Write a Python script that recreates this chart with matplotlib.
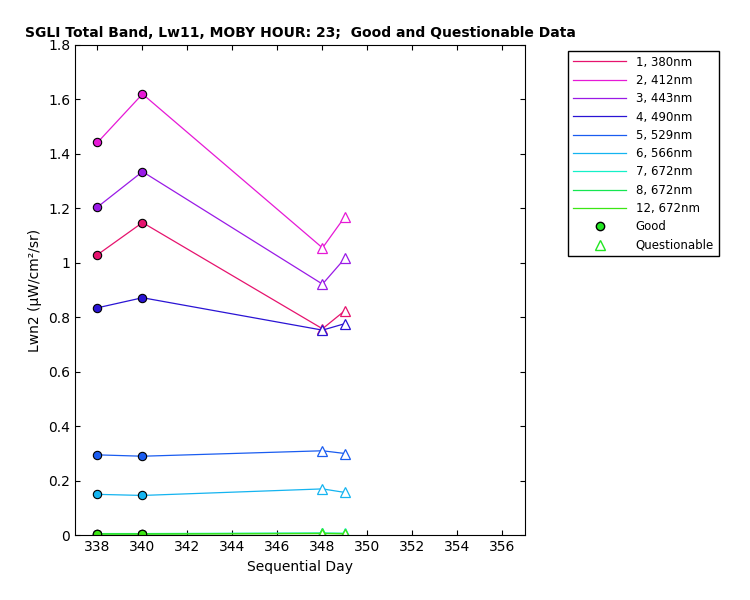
import matplotlib
matplotlib.use("Agg")
import matplotlib.pyplot as plt
from matplotlib.lines import Line2D

days = [338, 340, 348, 349]
good_n = 2
labels = ["1, 380nm", "2, 412nm", "3, 443nm", "4, 490nm", "5, 529nm", "6, 566nm", "7, 672nm", "8, 672nm", "12, 672nm"]
colors = ["#e6136e", "#e619d6", "#9a1ae6", "#2a14d4", "#1a5cf0", "#14b4f0", "#14f0c8", "#14e650", "#3ce614"]
values = [
    [1.03, 1.148, 0.758, 0.825],
    [1.442, 1.62, 1.055, 1.17],
    [1.205, 1.335, 0.922, 1.017],
    [0.835, 0.872, 0.753, 0.777],
    [0.295, 0.29, 0.31, 0.30],
    [0.15, 0.146, 0.17, 0.157],
    [0.006, 0.006, 0.008, 0.007],
    [0.005, 0.005, 0.007, 0.006],
    [0.004, 0.004, 0.006, 0.005],
]

fig = plt.figure(figsize=(7.5, 6), dpi=100)
ax = fig.add_axes([0.1, 0.108, 0.6, 0.817])
handles = []
for lab, c, v in zip(labels, colors, values):
    h, = ax.plot(days, v, color=c, lw=0.9, label=lab)
    handles.append(h)
    ax.plot(days[:good_n], v[:good_n], 'o', mfc=c, mec='black', ms=6, mew=0.8, ls='none')
    ax.plot(days[good_n:], v[good_n:], '^', mfc='white', mec=c, ms=6.5, mew=0.9, ls='none')
handles.append(Line2D([], [], marker='o', ls='none', mfc='#22e622', mec='black', ms=6, label='Good'))
handles.append(Line2D([], [], marker='^', ls='none', mfc='white', mec='#22e622', ms=6.5, label='Questionable'))
ax.set_xlim(337, 357)
ax.set_ylim(0, 1.8)
ax.set_xticks(range(338, 357, 2))
ax.set_yticks([0, 0.2, 0.4, 0.6, 0.8, 1, 1.2, 1.4, 1.6, 1.8])
ax.set_yticklabels(["0", "0.2", "0.4", "0.6", "0.8", "1", "1.2", "1.4", "1.6", "1.8"])
ax.tick_params(direction='in', labelsize=10, top=True, right=True)
ax.set_xlabel("Sequential Day", fontsize=10)
ax.set_ylabel("Lwn2 (µW/cm²/sr)", fontsize=10)
ax.set_title("SGLI Total Band, Lw11, MOBY HOUR: 23;  Good and Questionable Data", fontsize=10, fontweight='bold')
fig.legend(handles=handles, loc='upper left', bbox_to_anchor=(0.75, 0.925), fontsize=8.5,
           fancybox=False, edgecolor='black', framealpha=1, handlelength=4.5, labelspacing=0.45)
fig.savefig("out.png", dpi=100)
